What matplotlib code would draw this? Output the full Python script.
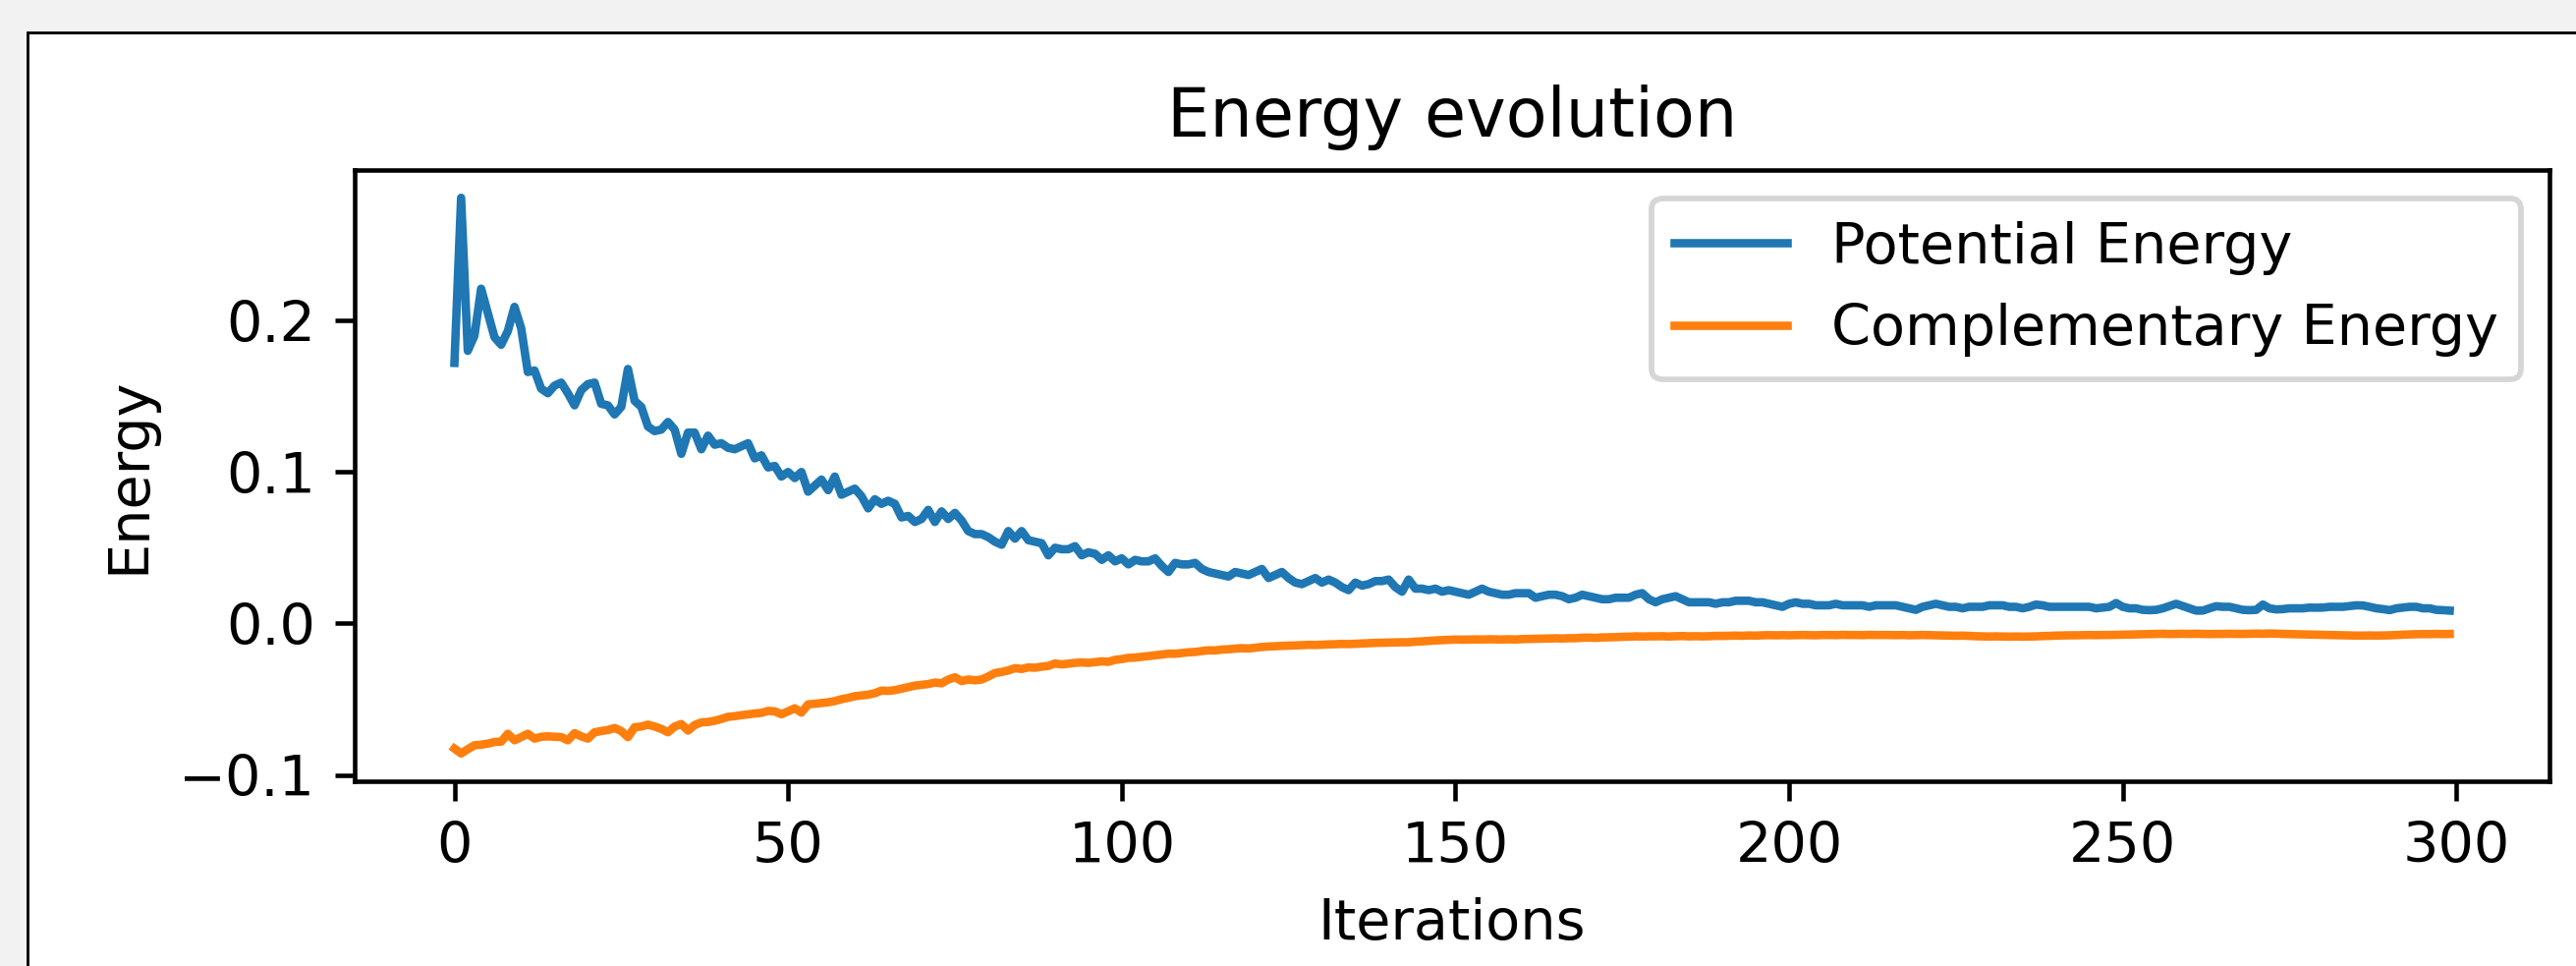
import numpy as np
import matplotlib
matplotlib.use("Agg")
import matplotlib.pyplot as plt
from matplotlib.patches import Rectangle

# ---- data ----
iterations = list(range(300))

potential_energy = [
  0.172, 0.281, 0.180, 0.190, 0.221, 0.205, 0.189, 0.184, 0.193, 0.209,
  0.195, 0.166, 0.167, 0.155, 0.152, 0.157, 0.159, 0.152, 0.144, 0.154,
  0.158, 0.159, 0.145, 0.144, 0.138, 0.143, 0.168, 0.147, 0.143, 0.130,
  0.127, 0.128, 0.133, 0.128, 0.112, 0.126, 0.126, 0.115, 0.124, 0.118,
  0.119, 0.116, 0.115, 0.117, 0.119, 0.109, 0.111, 0.103, 0.104, 0.097,
  0.100, 0.096, 0.100, 0.087, 0.091, 0.095, 0.088, 0.097, 0.085, 0.087,
  0.089, 0.084, 0.076, 0.082, 0.079, 0.081, 0.079, 0.070, 0.071, 0.067,
  0.069, 0.075, 0.067, 0.074, 0.069, 0.073, 0.068, 0.061, 0.059, 0.059,
  0.057, 0.054, 0.052, 0.061, 0.056, 0.061, 0.055, 0.054, 0.053, 0.045,
  0.050, 0.049, 0.049, 0.051, 0.045, 0.047, 0.046, 0.042, 0.045, 0.041,
  0.043, 0.039, 0.042, 0.041, 0.041, 0.043, 0.038, 0.034, 0.040, 0.039,
  0.039, 0.040, 0.036, 0.034, 0.033, 0.032, 0.031, 0.034, 0.033, 0.032,
  0.034, 0.036, 0.030, 0.032, 0.034, 0.030, 0.027, 0.026, 0.028, 0.030,
  0.027, 0.029, 0.027, 0.024, 0.022, 0.027, 0.025, 0.026, 0.028, 0.028,
  0.029, 0.024, 0.021, 0.029, 0.023, 0.023, 0.022, 0.023, 0.021, 0.022,
  0.021, 0.020, 0.019, 0.021, 0.023, 0.021, 0.020, 0.019, 0.019, 0.020,
  0.020, 0.020, 0.017, 0.018, 0.019, 0.019, 0.018, 0.016, 0.017, 0.019,
  0.018, 0.017, 0.016, 0.016, 0.017, 0.017, 0.017, 0.019, 0.020, 0.016,
  0.014, 0.016, 0.017, 0.018, 0.016, 0.014, 0.014, 0.014, 0.014, 0.013,
  0.014, 0.014, 0.015, 0.015, 0.015, 0.014, 0.014, 0.013, 0.012, 0.011,
  0.013, 0.014, 0.013, 0.013, 0.012, 0.012, 0.012, 0.013, 0.012, 0.012,
  0.012, 0.012, 0.011, 0.012, 0.012, 0.012, 0.012, 0.011, 0.010, 0.009,
  0.011, 0.012, 0.013, 0.012, 0.011, 0.011, 0.010, 0.011, 0.011, 0.011,
  0.012, 0.012, 0.012, 0.011, 0.011, 0.010, 0.011, 0.0125, 0.012, 0.011,
  0.011, 0.011, 0.011, 0.011, 0.011, 0.011, 0.010, 0.0105, 0.011, 0.0135,
  0.011, 0.010, 0.010, 0.009, 0.0088, 0.009, 0.010, 0.0115, 0.013, 0.0115,
  0.010, 0.0085, 0.0085, 0.010, 0.0114, 0.011, 0.011, 0.010, 0.009, 0.0088,
  0.009, 0.0125, 0.010, 0.0093, 0.0095, 0.010, 0.010, 0.010, 0.0105, 0.0104,
  0.0105, 0.011, 0.011, 0.011, 0.0115, 0.012, 0.0119, 0.011, 0.010, 0.0095,
  0.0088, 0.010, 0.0105, 0.011, 0.011, 0.010, 0.010, 0.009, 0.0088, 0.0085,
]

complementary_energy = [
  -0.0826, -0.0858, -0.0830, -0.0804, -0.0800, -0.0793, -0.0782, -0.0780, -0.0728, -0.0771,
  -0.0750, -0.0728, -0.0760, -0.0748, -0.0745, -0.0748, -0.0750, -0.0771, -0.0724, -0.0745,
  -0.0760, -0.0718, -0.0710, -0.0703, -0.0690, -0.0710, -0.0750, -0.0685, -0.0680, -0.0668,
  -0.0680, -0.0696, -0.0718, -0.0680, -0.0664, -0.0707, -0.0670, -0.0653, -0.0650, -0.0642,
  -0.0630, -0.0616, -0.0612, -0.0605, -0.0600, -0.0594, -0.0590, -0.0577, -0.0580, -0.0599,
  -0.0580, -0.0560, -0.0588, -0.0534, -0.0530, -0.0525, -0.0520, -0.0512, -0.0500, -0.0491,
  -0.0480, -0.0475, -0.0470, -0.0460, -0.0443, -0.0445, -0.0440, -0.0430, -0.0420, -0.0410,
  -0.0405, -0.0400, -0.0390, -0.0395, -0.0370, -0.0355, -0.0380, -0.0370, -0.0375, -0.0370,
  -0.0350, -0.0327, -0.0320, -0.0310, -0.0295, -0.0300, -0.0290, -0.0292, -0.0285, -0.0280,
  -0.0264, -0.0270, -0.0265, -0.0260, -0.0257, -0.0260, -0.0255, -0.0250, -0.0253, -0.0240,
  -0.0235, -0.0227, -0.0225, -0.0220, -0.0215, -0.0210, -0.0205, -0.0199, -0.0200, -0.0195,
  -0.0190, -0.0188, -0.0182, -0.0177, -0.0178, -0.0172, -0.0170, -0.0166, -0.0163, -0.0165,
  -0.0160, -0.0155, -0.0152, -0.0150, -0.0148, -0.0146, -0.0145, -0.0143, -0.0141, -0.0142,
  -0.0140, -0.0138, -0.0137, -0.0135, -0.0136, -0.0134, -0.0132, -0.0130, -0.0128, -0.0127,
  -0.0126, -0.0125, -0.0124, -0.0124, -0.0120, -0.0118, -0.0115, -0.0112, -0.0110, -0.0108,
  -0.0106, -0.0107, -0.0106, -0.0105, -0.0106, -0.0104, -0.0105, -0.0106, -0.0104, -0.0106,
  -0.0103, -0.0102, -0.0101, -0.0100, -0.0099, -0.0098, -0.0099, -0.0097, -0.0097, -0.0094,
  -0.0093, -0.0095, -0.0092, -0.0091, -0.0090, -0.0088, -0.0087, -0.0085, -0.0086, -0.0085,
  -0.0085, -0.0084, -0.0086, -0.0084, -0.0083, -0.0085, -0.0084, -0.0085, -0.0084, -0.0082,
  -0.0082, -0.0081, -0.0080, -0.0081, -0.0079, -0.0080, -0.0078, -0.0077, -0.0078, -0.0077,
  -0.0078, -0.0077, -0.0076, -0.0077, -0.0078, -0.0076, -0.0076, -0.0077, -0.0075, -0.0076,
  -0.0076, -0.0077, -0.0075, -0.0076, -0.0076, -0.0076, -0.0077, -0.0076, -0.0078, -0.0077,
  -0.0076, -0.0077, -0.0078, -0.0079, -0.0080, -0.0081, -0.0080, -0.0082, -0.0084, -0.0085,
  -0.0086, -0.0085, -0.0086, -0.0087, -0.0086, -0.0087, -0.0086, -0.0085, -0.0083, -0.0082,
  -0.0080, -0.0079, -0.0078, -0.0078, -0.0077, -0.0076, -0.0077, -0.0076, -0.0076, -0.0075,
  -0.0074, -0.0073, -0.0072, -0.0071, -0.0070, -0.0069, -0.0068, -0.0070, -0.0069, -0.0068,
  -0.0069, -0.0068, -0.0069, -0.0070, -0.0069, -0.0069, -0.0068, -0.0069, -0.0069, -0.0068,
  -0.0067, -0.0068, -0.0066, -0.0067, -0.0069, -0.0070, -0.0071, -0.0072, -0.0073, -0.0074,
  -0.0075, -0.0076, -0.0077, -0.0078, -0.0079, -0.0080, -0.0080, -0.0079, -0.0080, -0.0079,
  -0.0078, -0.0076, -0.0074, -0.0072, -0.0071, -0.0070, -0.0070, -0.0069, -0.0070, -0.0069,
]

# ---- figure: screenshot size, matplotlib shown at ~412 dpi ----
W, H = 2622, 983
DPI = 412
fig = plt.figure(figsize=(W / DPI, H / DPI), dpi=DPI, facecolor="#f2f2f2")

# white figure card with black border (continues past right/bottom edge)
fig.patches.append(Rectangle((28 / W, -0.5), 1.5, 1.5 - 33 / H,
                             transform=fig.transFigure, facecolor="white",
                             edgecolor="black", linewidth=0.5, zorder=-1))

ax = fig.add_axes([361 / W, 1 - 795 / H, (2595 - 361) / W, (795 - 173) / H])
ax.plot(iterations, potential_energy, label="Potential Energy")
ax.plot(iterations, complementary_energy, label="Complementary Energy")
ax.set_title("Energy evolution")
ax.set_xlabel("Iterations")
ax.set_ylabel("Energy")
ax.legend(loc="upper right")

fig.savefig("out.png", dpi=DPI, facecolor=fig.get_facecolor())
